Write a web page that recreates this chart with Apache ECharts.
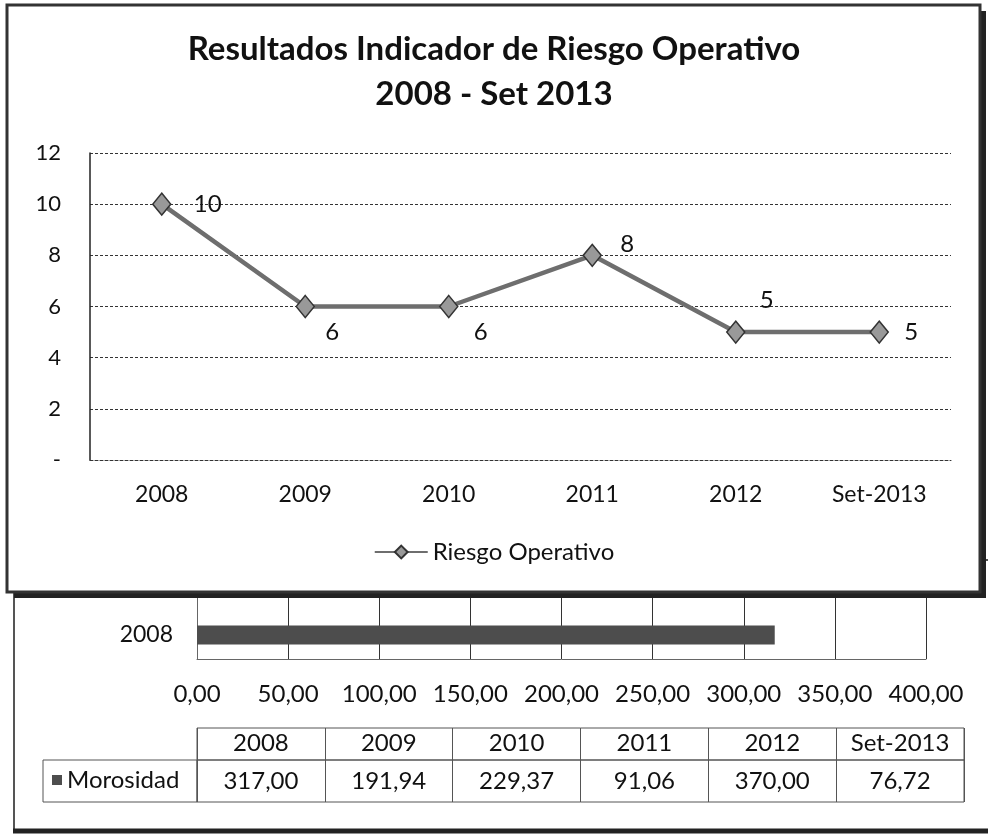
<!DOCTYPE html>
<html>
<head>
<meta charset="utf-8">
<title>Resultados Indicador de Riesgo Operativo</title>
<script src="https://cdn.jsdelivr.net/npm/echarts@6.0.0/dist/echarts.min.js"></script>
<style>
  html, body { margin: 0; padding: 0; background: #fff; }
  #chart { width: 988px; height: 835px; }
</style>
</head>
<body>
<div id="chart"></div>
<script>
// periods shared by both charts and the data table
const periods = ["2008", "2009", "2010", "2011", "2012", "Set-2013"];
// line chart: Riesgo Operativo
const riesgoOperativo = [10, 6, 6, 8, 5, 5];
const riesgoMin = 0;
const riesgoMax = 12;
const riesgoStep = 2;
// bar chart (mostly hidden behind the line chart) + table
const morosidad = [317.0, 191.94, 229.37, 91.06, 370.0, 76.72];
const morosidadMin = 0;
const morosidadMax = 400;
const morosidadStep = 50;

// where each data label sits relative to its point (layout only)
const labelOffsets = [[46, 0], [27, 26], [32, 26], [35, -11], [31, -32], [32, 0]];

const FONT = "Lato";
const INK = "#111";
const RULE = "#555";

const fmtComa = (v) => Number(v).toFixed(2).replace(".", ",");

const chart = echarts.init(document.getElementById("chart"), null, { renderer: "canvas" });

const hiddenAxis = (gridIndex) => ({ gridIndex, type: "value", show: false, min: 0, max: 1 });

chart.setOption({
  animation: false,
  backgroundColor: "#fff",
  textStyle: { fontFamily: FONT, color: INK },
  title: {
    text: "Resultados Indicador de Riesgo Operativo\n2008 - Set 2013",
    left: "center",
    top: 27,
    padding: 0,
    z: 8,
    textStyle: { fontFamily: FONT, fontSize: 33, fontWeight: "bold", color: INK, lineHeight: 45 },
  },
  legend: [
    {
      data: ["Riesgo Operativo"],
      left: "center",
      top: 540,
      padding: 0,
      itemWidth: 53,
      itemHeight: 16,
      z: 8,
      textStyle: { fontFamily: FONT, fontSize: 24, color: INK },
    },
    {
      data: ["Morosidad"],
      left: 52,
      top: 768,
      padding: 0,
      icon: "rect",
      itemWidth: 10,
      itemHeight: 10,
      z: 8,
      textStyle: { fontFamily: FONT, fontSize: 24, color: INK },
    },
  ],
  grid: [
    { left: 90, right: 37, top: 153, height: 307, z: 4, containLabel: false, outerBoundsMode: "none" },
    { left: 197, right: 62, top: 371, height: 288, containLabel: false, outerBoundsMode: "none" },
    { left: 197, right: 24, top: 728, height: 32, show: true, borderColor: RULE, borderWidth: 1, backgroundColor: "transparent", containLabel: false, outerBoundsMode: "none" },
    { left: 197, right: 24, top: 760, height: 42, show: true, borderColor: RULE, borderWidth: 1, backgroundColor: "transparent", containLabel: false, outerBoundsMode: "none" },
    { left: 43, width: 154, top: 760, height: 42, show: true, borderColor: RULE, borderWidth: 1, backgroundColor: "transparent", containLabel: false, outerBoundsMode: "none" },
  ],
  xAxis: [
    {
      gridIndex: 0,
      type: "category",
      data: periods,
      boundaryGap: true,
      z: 4,
      axisLine: { show: true, lineStyle: { color: "#333", width: 1, type: [3, 2] } },
      axisTick: { show: false },
      axisLabel: { interval: 0, margin: 23, fontSize: 23, color: INK, fontFamily: FONT },
      splitLine: { show: false },
    },
    {
      gridIndex: 1,
      type: "value",
      min: morosidadMin,
      max: morosidadMax,
      interval: morosidadStep,
      axisLine: { show: true, lineStyle: { color: "#666", width: 1 } },
      axisTick: { show: false },
      axisLabel: { margin: 23, fontSize: 24, color: INK, fontFamily: FONT, formatter: fmtComa },
      splitLine: { show: true, lineStyle: { color: "#333", width: 1 } },
    },
    {
      gridIndex: 2,
      type: "category",
      data: periods,
      boundaryGap: true,
      axisLine: { show: false },
      axisTick: { show: true, inside: true, length: 32, interval: 0, lineStyle: { color: RULE } },
      axisLabel: { inside: true, interval: 0, margin: 5, fontSize: 24, color: INK, fontFamily: FONT },
      splitLine: { show: false },
    },
    {
      gridIndex: 3,
      type: "category",
      data: periods,
      boundaryGap: true,
      axisLine: { show: false },
      axisTick: { show: true, inside: true, length: 42, interval: 0, lineStyle: { color: RULE } },
      axisLabel: {
        inside: true,
        interval: 0,
        margin: 9,
        fontSize: 24,
        color: INK,
        fontFamily: FONT,
        formatter: (v, i) => fmtComa(morosidad[i]),
      },
      splitLine: { show: false },
    },
    hiddenAxis(4),
  ],
  yAxis: [
    {
      gridIndex: 0,
      type: "value",
      min: riesgoMin,
      max: riesgoMax,
      interval: riesgoStep,
      z: 4,
      axisLine: { show: true, lineStyle: { color: "#222", width: 1.5 } },
      axisTick: { show: false },
      axisLabel: {
        margin: 29,
        fontSize: 22,
        color: INK,
        fontFamily: FONT,
        formatter: (v) => (v === 0 ? "-" : String(v)),
      },
      splitLine: { show: true, lineStyle: { color: "#333", width: 1, type: [3, 2] } },
    },
    {
      gridIndex: 1,
      type: "category",
      data: periods,
      boundaryGap: true,
      axisLine: { show: true, lineStyle: { color: "#666", width: 1 } },
      axisTick: { show: false },
      axisLabel: { interval: 0, margin: 24, fontSize: 23, color: INK, fontFamily: FONT },
      splitLine: { show: false },
    },
    hiddenAxis(2),
    hiddenAxis(3),
    hiddenAxis(4),
  ],
  graphic: [
    // frame of the underlying bar chart
    { type: "rect", z: 0, shape: { x: 14, y: 560, width: 1000, height: 271 }, style: { fill: null, stroke: RULE, lineWidth: 2 } },
    { type: "line", z: 0, shape: { x1: 13, y1: 831, x2: 988, y2: 831 }, style: { stroke: "#222", lineWidth: 5 } },
    // pasted line chart: dark drop edge + white panel
    { type: "rect", z: 2, shape: { x: 14, y: 11, width: 972, height: 587 }, style: { fill: "#222" } },
    { type: "rect", z: 3, shape: { x: 7, y: 5, width: 973, height: 587 }, style: { fill: "#fff", stroke: "#333", lineWidth: 3 } },
  ],
  series: [
    {
      name: "Riesgo Operativo",
      type: "line",
      xAxisIndex: 0,
      yAxisIndex: 0,
      z: 5,
      data: riesgoOperativo.map((v, i) => ({ value: v, label: { offset: labelOffsets[i] } })),
      symbol: "diamond",
      symbolSize: [18, 22],
      lineStyle: { color: "#6e6e6e", width: 4.5 },
      itemStyle: { color: "#999", borderColor: "#333", borderWidth: 1.5 },
      label: { show: true, position: "inside", fontSize: 24, color: INK, fontFamily: FONT },
      emphasis: { disabled: true },
    },
    {
      name: "Morosidad",
      type: "bar",
      xAxisIndex: 1,
      yAxisIndex: 1,
      z: 1,
      data: morosidad,
      barWidth: 19,
      itemStyle: { color: "#4d4d4d" },
      emphasis: { disabled: true },
    },
  ],
});
</script>
</body>
</html>
